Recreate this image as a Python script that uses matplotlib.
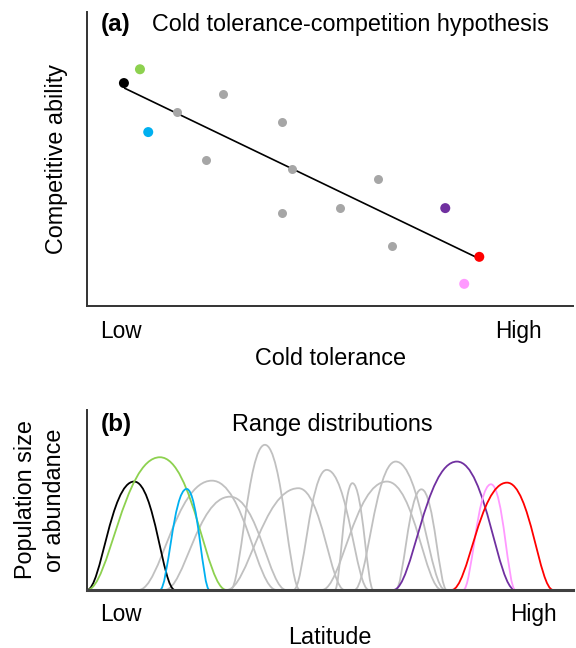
import matplotlib
matplotlib.use('Agg')
import matplotlib.pyplot as plt
from matplotlib.path import Path
from matplotlib.patches import PathPatch

plt.rcParams['font.family'] = ['Liberation Sans', 'DejaVu Sans']

# ---- panel (a): cold tolerance vs competitive ability ----
gray_x = [18.5, 28.0, 24.5, 40.1, 42.2, 40.1, 52.1, 59.9, 62.8]
gray_y = [66.0, 72.1, 49.7, 62.6, 46.6, 31.6, 33.3, 43.2, 20.4]

species_x = [7.6, 10.9, 12.6, 73.7, 80.7, 77.6]
species_y = [75.9, 80.6, 59.2, 33.3, 16.7, 7.5]
species_colors = ['black', '#8DD14F', '#00B0F0', '#7030A0', '#FF0000', '#FF99FF']

trend_x = [7.8, 79.9]
trend_y = [74.1, 16.7]

# ---- panel (b): range distributions along latitude ----
# start, peak position, peak height, end
gray_start = [10.6, 16.0, 29.5, 28.7, 42.5, 51.0, 55.0, 48.3, 63.5]
gray_peak = [25.7, 29.4, 36.6, 43.5, 49.3, 54.6, 63.5, 61.7, 68.8]
gray_height = [60.7, 51.8, 80.6, 56.5, 66.7, 59.3, 71.3, 60.2, 55.9]
gray_end = [39.0, 41.0, 43.8, 53.0, 58.0, 58.9, 73.7, 73.0, 74.0]

col_start = [0.0, 0.0, 15.0, 63.0, 77.4, 75.0]
col_peak = [9.7, 15.0, 20.5, 76.1, 83.1, 86.4]
col_height = [60.2, 73.7, 56.1, 71.3, 58.7, 59.6]
col_end = [18.1, 28.7, 25.2, 88.1, 88.1, 95.9]
col_colors = ['black', '#8DD14F', '#00B0F0', '#7030A0', '#FF99FF', '#FF0000']


def bell(ax, s, p, h, e, color, lw=1.3):
    """Draw a hump from (s,0) up to (p,h) and down to (e,0) as bezier curves."""
    k1, k2 = 0.3, 0.5
    verts = [(s, 0),
             (s + k1 * (p - s), 0), (p - k2 * (p - s), h), (p, h),
             (p + k2 * (e - p), h), (e - k1 * (e - p), 0), (e, 0)]
    codes = [Path.MOVETO] + [Path.CURVE4] * 6
    ax.add_patch(PathPatch(Path(verts, codes), fill=False, edgecolor=color,
                           lw=lw, capstyle='round'))


fig = plt.figure(figsize=(5.76, 6.48), dpi=100)

axa = fig.add_axes([0.151, 0.528, 0.844, 0.453])
axa.plot(trend_x, trend_y, color='black', lw=1.2, zorder=2)
axa.scatter(gray_x, gray_y, s=42, color='#A6A6A6', zorder=3, linewidths=0)
axa.scatter(species_x, species_y, s=52, c=species_colors, zorder=4,
            linewidths=0)
axa.set_xlim(0, 100)
axa.set_ylim(0, 100)
axa.set_xticks([7.0, 88.7], ['Low', 'High'])
axa.set_yticks([])
axa.tick_params(axis='x', length=0, pad=10, labelsize=16.3)
axa.set_xlabel('Cold tolerance', fontsize=16.8, labelpad=3)
axa.set_ylabel('Competitive ability', fontsize=16.8, labelpad=14)
axa.spines[['top', 'right']].set_visible(False)
for sp in ['left', 'bottom']:
    axa.spines[sp].set_linewidth(1.4)
    axa.spines[sp].set_color('#333333')
axa.text(0.029, 0.998, '(a)', transform=axa.transAxes, fontsize=17.5,
         fontweight='bold', va='top', ha='left')
axa.text(0.134, 0.998, 'Cold tolerance-competition hypothesis',
         transform=axa.transAxes, fontsize=16.8, va='top', ha='left')

axb = fig.add_axes([0.151, 0.0895, 0.844, 0.278])
for s, p, h, e in zip(gray_start, gray_peak, gray_height, gray_end):
    bell(axb, s, p, h, e, '#C0C0C0')
for s, p, h, e, c in zip(col_start, col_peak, col_height, col_end, col_colors):
    bell(axb, s, p, h, e, c)
axb.set_xlim(0, 100)
axb.set_ylim(0, 100)
axb.set_xticks([7.0, 91.8], ['Low', 'High'])
axb.set_yticks([])
axb.tick_params(axis='x', length=0, pad=9, labelsize=16.3)
axb.set_xlabel('Latitude', fontsize=16.8, labelpad=0)
axb.set_ylabel('Population size\nor abundance', fontsize=16.8, labelpad=15,
               linespacing=1.35)
axb.spines[['top', 'right']].set_visible(False)
axb.spines['left'].set_linewidth(1.4)
axb.spines['left'].set_color('#333333')
axb.spines['bottom'].set_linewidth(2.2)
axb.spines['bottom'].set_color('#404040')
axb.text(0.029, 0.985, '(b)', transform=axb.transAxes, fontsize=17.5,
         fontweight='bold', va='top', ha='left')
axb.text(0.504, 0.985, 'Range distributions', transform=axb.transAxes,
         fontsize=16.8, va='top', ha='center')

fig.savefig('out.png', dpi=100)
